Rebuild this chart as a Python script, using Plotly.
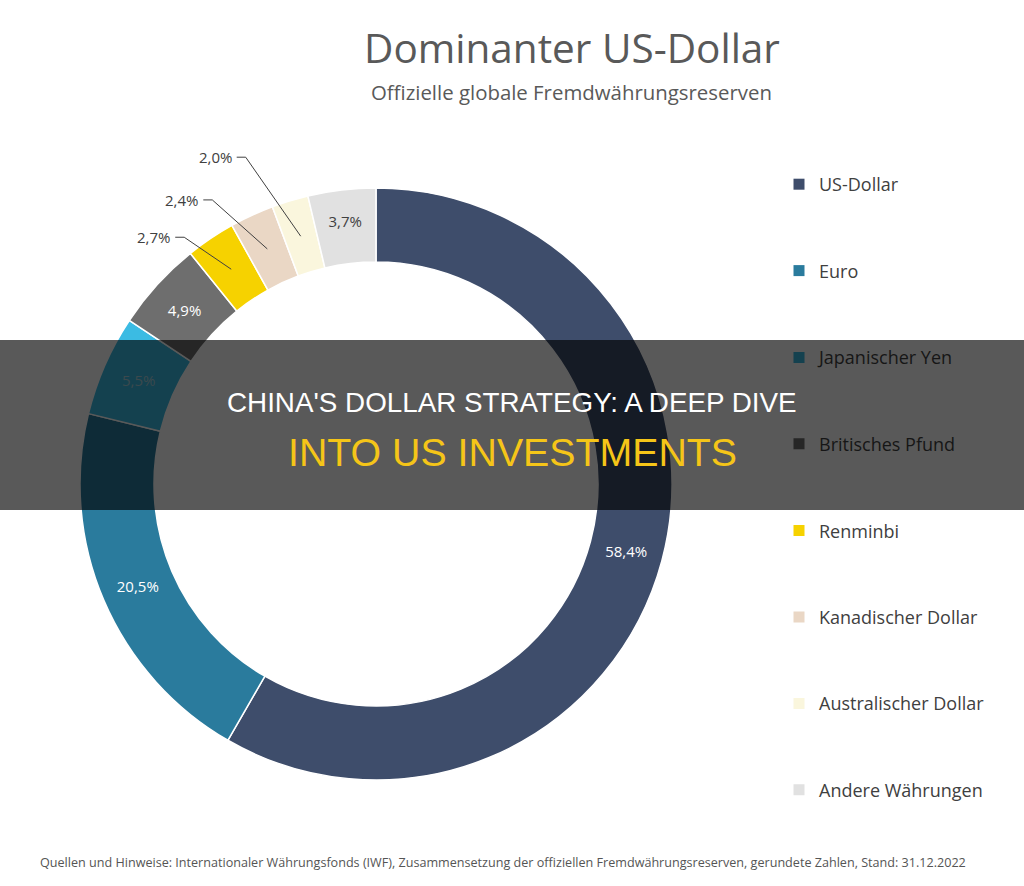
import math
import plotly.graph_objects as go

# ---------------- data ----------------
currencies = ["US-Dollar", "Euro", "Japanischer Yen", "Britisches Pfund", "Renminbi",
              "Kanadischer Dollar", "Australischer Dollar", "Andere Währungen"]
shares = [58.4, 20.5, 5.5, 4.9, 2.7, 2.4, 2.0, 3.7]

title = "Dominanter US-Dollar"
subtitle = "Offizielle globale Fremdwährungsreserven"
footer = ("Quellen und Hinweise: Internationaler Währungsfonds (IWF), Zusammensetzung der "
          "offiziellen Fremdwährungsreserven, gerundete Zahlen, Stand: 31.12.2022")
banner1 = "CHINA'S DOLLAR STRATEGY: A DEEP DIVE"
banner2 = "INTO US INVESTMENTS"

# ---------------- styles ----------------
colors = ["#3e4d6b", "#2a7b9d", "#3bbbe3", "#6e6e6e", "#f6d200", "#ead7c5", "#faf6dd", "#e1e1e1"]
label_colors = ["#ffffff", "#ffffff", "#a8d0dc", "#ffffff", "#404040", "#404040", "#404040", "#404040"]
OUTSIDE_MAX = 3.0  # slices smaller than this get outside labels
# elbow offset of leader line (px) relative to the slice anchor, per outside label
outside_offsets = {"Renminbi": (-47, -32), "Kanadischer Dollar": (-55, -49), "Australischer Dollar": (-55, -79)}

W, H = 1024, 886
CX, CY, R = 376, 484, 296
HOLE = 0.75
OVER_TOP, OVER_BOT, OVER_ALPHA = 340, 510, 0.65
TEXT = "#404040"
FONT = "Open Sans, Noto Sans, sans-serif"


def px(x, y):
    return x / W, 1 - y / H


def fmt(v):
    return f"{v:.1f}".replace(".", ",") + "%"


def blend(hexcol, a):
    h = hexcol.lstrip("#")
    r, g, b = (int(h[i:i + 2], 16) for i in (0, 2, 4))
    f = 1 - a
    return "#%02x%02x%02x" % (int(r * f), int(g * f), int(b * f))


labels_text = [fmt(v) for v in shares]
positions = ["none" if v < OUTSIDE_MAX else "inside" for v in shares]

fig = go.Figure()
fig.add_trace(go.Pie(
    labels=currencies, values=shares, sort=False, direction="clockwise", rotation=0,
    hole=HOLE, text=labels_text, texttemplate="%{text}", textposition=positions,
    insidetextorientation="horizontal",
    insidetextfont=dict(family=FONT, size=15, color=label_colors),
    marker=dict(colors=colors, line=dict(color="white", width=1.5)),
    domain=dict(x=[(CX - R) / W, (CX + R) / W], y=[(H - CY - R) / H, (H - CY + R) / H]),
    showlegend=False, hoverinfo="label+percent",
))

# legend entries (split in three legends so items under the banner can be darkened)
legend_groups = ["legend", "legend", "legend2", "legend2", "legend3", "legend3", "legend3", "legend3"]
for name, col, lg in zip(currencies, colors, legend_groups):
    c = blend(col, OVER_ALPHA) if lg == "legend2" else col
    fig.add_trace(go.Scatter(x=[None], y=[None], mode="markers", name=name, legend=lg,
                             legendgroup=name,
                             marker=dict(symbol="square", size=11, color=c,
                                         line=dict(color="rgba(0,0,0,0)", width=0))))

# outside labels with leader lines
shapes = []
annotations = []
r_tip = R * (1 + HOLE) / 2
cum = 0.0
total = sum(shares)
for name, v, t in zip(currencies, shares, labels_text):
    mid = (cum + v / 2) / total * 2 * math.pi
    cum += v
    if v >= OUTSIDE_MAX:
        continue
    tx, ty = CX + r_tip * math.sin(mid), CY - r_tip * math.cos(mid)
    dx, dy = outside_offsets[name]
    ex, ey = tx + dx, ty + dy
    sx, sy = ex - 9, ey
    p0, p1, p2 = px(sx, sy), px(ex, ey), px(tx, ty)
    shapes.append(dict(type="path", xref="paper", yref="paper",
                       path=f"M {p0[0]},{p0[1]} L {p1[0]},{p1[1]} L {p2[0]},{p2[1]}",
                       line=dict(color="#404040", width=1)))
    lx, ly = px(sx - 3, sy)
    annotations.append(dict(x=lx, y=ly, xref="paper", yref="paper", text=t, showarrow=False,
                            xanchor="right", yanchor="middle",
                            font=dict(family=FONT, size=15, color=TEXT)))

# banner overlay
y0 = px(0, OVER_BOT)[1]
y1 = px(0, OVER_TOP)[1]
shapes.append(dict(type="rect", xref="paper", yref="paper", x0=0, x1=1, y0=y0, y1=y1,
                   fillcolor=f"rgba(0,0,0,{OVER_ALPHA})", line=dict(width=0), layer="above"))


def note(x, y, text, xanchor, font):
    return dict(x=px(x, 0)[0], y=px(0, y)[1], xref="paper", yref="paper", text=text, showarrow=False,
                xanchor=xanchor, yanchor="middle", font=font)


annotations += [
    note(572, 48, title, "center", dict(family=FONT, size=40.5, color="#595959")),
    note(571, 92, subtitle, "center", dict(family=FONT, size=20.4, color="#595959")),
    note(38, 862, footer, "left", dict(family=FONT, size=12.6, color="#555555")),
    note(512, 402, banner1, "center", dict(family="Liberation Sans, Arial, sans-serif", size=27.8, color="#ffffff")),
    note(512, 452, banner2, "center", dict(family="Liberation Sans, Arial, sans-serif", size=39.3, color="#f5c518")),
]

LEG_X = 779 / W
GAP = 60
leg_common = dict(x=LEG_X, xanchor="left", yanchor="top", traceorder="grouped", tracegroupgap=GAP,
                  bgcolor="rgba(0,0,0,0)", borderwidth=0, itemclick=False, itemdoubleclick=False)

fig.update_layout(
    width=W, height=H, margin=dict(l=0, r=0, t=0, b=0),
    paper_bgcolor="white", plot_bgcolor="white",
    xaxis=dict(visible=False), yaxis=dict(visible=False),
    legend=dict(y=px(0, 166)[1], font=dict(family=FONT, size=18, color=TEXT), **leg_common),
    legend2=dict(y=px(0, 166 + 2 * 86.6)[1], font=dict(family=FONT, size=18, color=blend(TEXT, OVER_ALPHA)), **leg_common),
    legend3=dict(y=px(0, 166 + 4 * 86.6)[1], font=dict(family=FONT, size=18, color=TEXT), **leg_common),
    shapes=shapes, annotations=annotations,
)

fig.write_html("out.html")
